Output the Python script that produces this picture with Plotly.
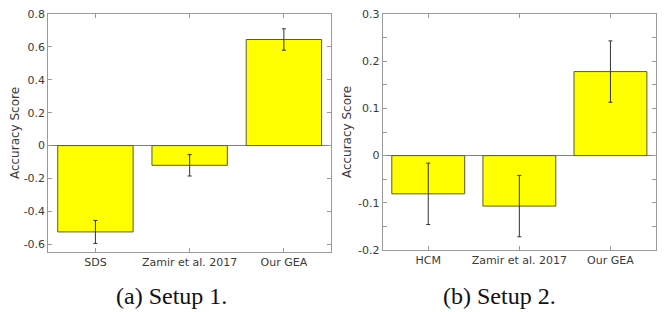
import plotly.graph_objects as go

# Setup 1
cats_a = ["SDS", "Zamir et al. 2017", "Our GEA"]
vals_a = [-0.525, -0.12, 0.645]
errs_a = [0.07, 0.065, 0.065]

# Setup 2
cats_b = ["HCM", "Zamir et al. 2017", "Our GEA"]
vals_b = [-0.081, -0.107, 0.178]
errs_b = [0.065, 0.065, 0.065]

ya_ticks = [-0.6, -0.4, -0.2, 0, 0.2, 0.4, 0.6, 0.8]
ya_labels = ["-0.6", "-0.4", "-0.2", "0", "0.2", "0.4", "0.6", "0.8"]
yb_ticks = [-0.2, -0.1, 0, 0.1, 0.2, 0.3]
yb_labels = ["-0.2", "-0.1", "0", "0.1", "0.2", "0.3"]

captions = ["(a) Setup 1.", "(b) Setup 2."]

# page body has an 8px default margin
OFF = 8
W, H = 670 - OFF, 312 - OFF

def px(x):
    return (x - OFF) / W

def py(y):
    return 1 - (y - OFF) / H

BAR = "#ffff00"
EDGE = "#5a5a3c"
AX = "#9a9a9a"
TXT = "#3a3a3a"

fig = go.Figure()
pos = [1, 2, 3]

fig.add_trace(go.Bar(
    x=pos, y=vals_a, width=0.8, xaxis="x", yaxis="y",
    marker=dict(color=BAR, line=dict(color=EDGE, width=1)),
    error_y=dict(type="data", array=errs_a, color="#333333", thickness=1, width=2),
    showlegend=False))
fig.add_trace(go.Bar(
    x=pos, y=vals_b, width=0.8, xaxis="x2", yaxis="y2",
    marker=dict(color=BAR, line=dict(color=EDGE, width=1)),
    error_y=dict(type="data", array=errs_b, color="#333333", thickness=1, width=2),
    showlegend=False))

def xa(domain, anchor, labels):
    return dict(domain=domain, anchor=anchor, range=[0.5, 3.5], automargin=False,
                tickvals=pos, ticktext=labels, ticks="inside", ticklen=4,
                tickcolor=AX, showline=True, linecolor=AX, linewidth=1,
                mirror="ticks", showgrid=False, zeroline=False,
                ticklabeloverflow="allow",
                tickfont=dict(family="DejaVu Sans", size=11, color=TXT))

def ya(domain, anchor, rng, tv, tt, minor=None):
    d = dict(domain=domain, anchor=anchor, range=rng, tickvals=tv, ticktext=tt,
             automargin=False, ticklabeloverflow="allow",
             ticks="inside", ticklen=4, tickcolor=AX, showline=True,
             linecolor=AX, linewidth=1, mirror="ticks", showgrid=False,
             zeroline=True, zerolinecolor="#808080", zerolinewidth=1,
             tickfont=dict(family="DejaVu Sans", size=11, color=TXT),
             title=dict(text="Accuracy Score", standoff=3,
                        font=dict(family="DejaVu Sans", size=12, color=TXT)))
    if minor:
        d["minor"] = minor
    return d

fig.update_layout(
    template="none",
    width=W, height=H, margin=dict(l=0, r=0, t=0, b=0, pad=0),
    paper_bgcolor="white", plot_bgcolor="white",
    xaxis=xa([px(48.3), px(331)], "y", cats_a),
    yaxis=ya([py(252), py(14)], "x", [-0.647, 0.8], ya_ticks, ya_labels),
    xaxis2=xa([px(382.7), px(656)], "y2", cats_b),
    yaxis2=ya([py(250), py(14)], "x2", [-0.2, 0.3], yb_ticks, yb_labels,
              minor=dict(tickvals=[-0.15, -0.05, 0.05, 0.15, 0.25],
                         ticks="inside", ticklen=4, tickcolor=AX)),
    annotations=[
        dict(text=captions[0], x=px(171), y=py(296), xref="paper", yref="paper",
             showarrow=False, xanchor="center", yanchor="middle",
             font=dict(family="Liberation Serif", size=24, color="#111111")),
        dict(text=captions[1], x=px(499), y=py(296), xref="paper", yref="paper",
             showarrow=False, xanchor="center", yanchor="middle",
             font=dict(family="Liberation Serif", size=24, color="#111111")),
    ],
)

fig.write_html("out.html")
